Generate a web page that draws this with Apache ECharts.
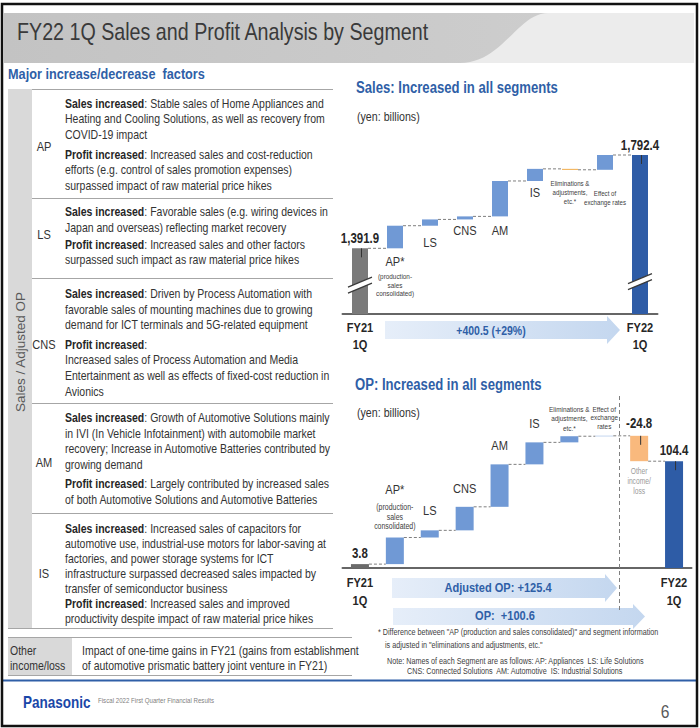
<!DOCTYPE html>
<html><head><meta charset="utf-8">
<script src="https://cdn.jsdelivr.net/npm/echarts@6/dist/echarts.min.js"></script>
<style>html,body{margin:0;padding:0;background:#fff}#c{width:700px;height:728px}</style>
</head><body><div id="c"></div>
<script>
// ---------------- DATA ----------------
const salesCategories = ['FY21\n1Q', 'AP*', 'LS', 'CNS', 'AM', 'IS', 'Eliminations &\nadjustments,\netc.*', 'Effect of\nexchange rates', 'FY22\n1Q'];
const salesStartValue = 1391.9;
const salesDeltas = [97, 27, 13, 152, 52, -4, 63.5];
const salesEndValue = 1792.4;

const opCategories = ['FY21\n1Q', 'AP*', 'LS', 'CNS', 'AM', 'IS', 'Eliminations &\nadjustments,\netc.*', 'Effect of\nexchange\nrates', 'Other\nincome/\nloss', 'FY22\n1Q'];
const opStartValue = 3.8;
const opDeltas = [26, 7, 23, 41.5, 21.5, 6, 0.4, -24.8];
const opEndValue = 104.4;

const apNoteLines = ['(production-', 'sales', 'consolidated)'];

const apFactors = [
  ['{b|Sales increased}: Stable sales of Home Appliances and', 'Heating and Cooling Solutions, as well as recovery from', 'COVID-19 impact'],
  ['{b|Profit increased}: Increased sales and cost-reduction', 'efforts (e.g. control of sales promotion expenses)', 'surpassed impact of raw material price hikes']
];
const lsFactors = [
  ['{b|Sales increased}: Favorable sales (e.g. wiring devices in', 'Japan and overseas) reflecting market recovery'],
  ['{b|Profit increased}: Increased sales and other factors', 'surpassed such impact as raw material price hikes']
];
const cnsFactors = [
  ['{b|Sales increased}: Driven by Process Automation with', 'favorable sales of mounting machines due to growing', 'demand for ICT terminals and 5G-related equipment'],
  ['{b|Profit increased}:', 'Increased sales of Process Automation and Media', 'Entertainment as well as effects of fixed-cost reduction in', 'Avionics']
];
const amFactors = [
  ['{b|Sales increased}: Growth of Automotive Solutions mainly', 'in IVI (In Vehicle Infotainment) with automobile market', 'recovery; Increase in Automotive Batteries contributed by', 'growing demand'],
  ['{b|Profit increased}: Largely contributed by increased sales', 'of both Automotive Solutions and Automotive Batteries']
];
const isFactors = [
  ['{b|Sales increased}: Increased sales of capacitors for', 'automotive use, industrial-use motors for labor-saving at', 'factories, and power storage systems for ICT', 'infrastructure surpassed decreased sales impacted by', 'transfer of semiconductor business'],
  ['{b|Profit increased}: Increased sales and improved', 'productivity despite impact of raw material price hikes']
];
const segmentNames = ['AP', 'LS', 'CNS', 'AM', 'IS'];
const otherFactors = ['Impact of one-time gains in FY21 (gains from establishment', 'of automotive prismatic battery joint venture in FY21)'];
const footnoteLines = ['* Difference between "AP (production and sales consolidated)" and segment information', 'is adjusted in "eliminations and adjustments, etc."'];
const noteLines = ['Note: Names of each Segment are as follows: AP: Appliances  LS: Life Solutions', 'CNS: Connected Solutions  AM: Automotive  IS: Industrial Solutions'];

// ---------------- HELPERS ----------------
const FONT = "'Liberation Sans',Arial,sans-serif";
const NX = 0.82; // horizontal squeeze → Arial Narrow look
const BLUE = '#2f5fa7';
const SEG = '#7099d5';
const fmt = v => v.toLocaleString('en-US', {minimumFractionDigits: 1, maximumFractionDigits: 1});

function waterfall(start, deltas, end) {
  const base = [0], size = [start], kind = ['start'], level = [start];
  let r = start;
  deltas.forEach(d => {
    const lo = Math.min(r, r + d), hi = Math.max(r, r + d);
    base.push(lo); size.push(+(hi - lo).toFixed(4)); kind.push(d >= 0 ? 'up' : 'down');
    r = +(r + d).toFixed(4); level.push(r);
  });
  base.push(0); size.push(end); kind.push('end'); level.push(end);
  return {base, size, kind, level};
}
const S = waterfall(salesStartValue, salesDeltas, salesEndValue);
const O = waterfall(opStartValue, opDeltas, opEndValue);
const sumSales = salesDeltas.reduce((a, b) => a + b, 0);
const adjOP = opDeltas.slice(0, -1).reduce((a, b) => a + b, 0);
const totOP = opDeltas.reduce((a, b) => a + b, 0);
const SALES_MIN = 1110, SALES_MAX = salesEndValue, OP_MIN = 0, OP_MAX = 130;

const colorOf = (k, which) => k === 'start' ? (which === 's' ? '#7a7a7a' : '#6b6b6b') :
  k === 'end' ? '#2e5ca6' : k === 'up' ? SEG : (which === 's' ? '#f0a63c' : '#f9b97d');

// label specs: anchor = 'top' | 'bottom' | 'axis'
const vSpec = (text, dist) => ({text, anchor: 'top', dir: 'up', dist, fs: 14, fw: 'bold', color: '#262626', lh: 15});
const segSpec = (text, anchor, dist) => ({text, anchor, dir: anchor === 'top' ? 'up' : 'down', dist, fs: 13.5, color: '#333', lh: 16});
const smSpec = (text, anchor, dist, fs, lh, color) => ({text, anchor, dir: anchor === 'top' ? 'up' : 'down', dist, fs, lh, color: color || '#404040'});
const apSpec = (anchor, dist, aLh, sFs, sLh) => ({anchor, dir: anchor === 'top' ? 'up' : 'down', dist, fs: 13.5, lh: aLh,
  text: '{a|AP*}\n' + apNoteLines.map(l => '{s|' + l + '}').join('\n'),
  rich: {a: {fontFamily: FONT, fontSize: 13.5, fill: '#333', lineHeight: aLh},
         s: {fontFamily: FONT, fontSize: sFs, fill: '#404040', lineHeight: sLh}}});
const axSpec = (text, dist, lh) => ({text, anchor: 'axis', dir: 'down', dist, fs: 13.5, fw: 'bold', color: '#262626', lh});

const salesLabelSpecs = [
  vSpec(fmt(salesStartValue), 3),
  apSpec('bottom', 3, 21.5, 7.8, 8.5),
  segSpec(salesCategories[2], 'bottom', 9),
  segSpec(salesCategories[3], 'bottom', 3),
  segSpec(salesCategories[4], 'bottom', 6),
  segSpec(salesCategories[5], 'bottom', 4),
  smSpec(salesCategories[6], 'bottom', 8.5, 7.5, 9),
  smSpec(salesCategories[7], 'bottom', 18.5, 7.5, 9),
  vSpec(fmt(salesEndValue), 2.5),
  axSpec(salesCategories[0], 5, 17),
  axSpec(salesCategories[salesCategories.length - 1], 5, 17)
];
const salesLabelIdx = [0, 1, 2, 3, 4, 5, 6, 7, 8, 0, salesCategories.length - 1];

const opLabelSpecs = [
  vSpec(fmt(opStartValue), 3.5),
  apSpec('top', 6.5, 26, 8.5, 9.5),
  segSpec(opCategories[2], 'top', 12),
  segSpec(opCategories[3], 'top', 10),
  segSpec(opCategories[4], 'top', 11),
  segSpec(opCategories[5], 'top', 11),
  smSpec(opCategories[6], 'top', 3, 7.8, 9.5),
  smSpec(opCategories[7], 'top', 5, 7.8, 8.5),
  vSpec(fmt(opDeltas[opDeltas.length - 1]), 5),
  vSpec(fmt(opEndValue), 3.5),
  smSpec(opCategories[8], 'bottom', 5, 8.2, 10, '#9a9a9a'),
  axSpec(opCategories[0], 6, 18),
  axSpec(opCategories[opCategories.length - 1], 6, 18)
];
const opLabelIdx = [0, 1, 2, 3, 4, 5, 6, 7, 8, 9, 8, 0, opCategories.length - 1];

function labelData(W, idx, specs, axisMin) {
  return idx.map((i, k) => {
    const a = specs[k].anchor;
    const v = a === 'top' ? W.base[i] + W.size[i] : a === 'bottom' ? W.base[i] : axisMin;
    return [i, v];
  });
}
function labelRender(specs) {
  return function (params, api) {
    const sp = specs[params.dataIndex];
    const c = api.coord([api.value(0), api.value(1)]);
    const y = sp.dir === 'up' ? c[1] - sp.dist : c[1] + sp.dist;
    const va = sp.dir === 'up' ? 'bottom' : 'top';
    const style = {text: sp.text, fontFamily: FONT, fontSize: sp.fs, fontWeight: sp.fw || 'normal',
      fill: sp.color || '#333', textAlign: 'center', textVerticalAlign: va, verticalAlign: va, lineHeight: sp.lh};
    if (sp.rich) style.rich = sp.rich;
    return {type: 'text', x: c[0], y, scaleX: NX, style};
  };
}
function connectorRender(hw) {
  return function (params, api) {
    const i = api.value(0), v = api.value(1);
    const p1 = api.coord([i, v]), p2 = api.coord([i + 1, v]);
    return {type: 'line', shape: {x1: p1[0] + hw, y1: p1[1], x2: p2[0] - hw, y2: p2[1]},
      style: {stroke: '#7f7f7f', lineWidth: 1, lineDash: [3, 2]}};
  };
}
function tickRender(params, api) {
  const p = api.coord([api.value(0), api.value(1)]);
  return {type: 'line', shape: {x1: p[0] + 1.5, y1: p[1], x2: p[0] + 1.5, y2: p[1] + 9},
    style: {stroke: '#333', lineWidth: 1}};
}
function breakRender(params, api) {
  const p = api.coord([api.value(0), api.value(1)]);
  const x0 = p[0] - 12, x1 = p[0] + 12, y = p[1];
  return {type: 'group', children: [
    {type: 'polygon', shape: {points: [[x0, y + 5], [x1, y - 5], [x1, y + 1], [x0, y + 11]]}, style: {fill: '#fff'}},
    {type: 'line', shape: {x1: x0, y1: y + 5, x2: x1, y2: y - 5}, style: {stroke: '#3a3a3a', lineWidth: 1.2}},
    {type: 'line', shape: {x1: x0, y1: y + 11, x2: x1, y2: y + 1}, style: {stroke: '#3a3a3a', lineWidth: 1.2}}
  ]};
}

// ---------------- GRAPHICS ----------------
const G = [];
function T(x, y, text, o) {
  o = o || {};
  const sx = o.sx === undefined ? NX : o.sx;
  const style = Object.assign({text, fontFamily: FONT, fontSize: 12, fill: '#333', textAlign: 'left',
    textVerticalAlign: 'middle', verticalAlign: 'middle'}, o);
  delete style.sx;
  G.push({type: 'text', x, y, z: 20, scaleX: sx, style});
}
const R = (x, y, w, h, fill, z) => G.push({type: 'rect', z: z || 1, shape: {x, y, width: w, height: h}, style: {fill}});
const L = (x1, y1, x2, y2, stroke, lw, dash) => G.push({type: 'line', z: 5, shape: {x1, y1, x2, y2}, style: {stroke, lineWidth: lw || 1, lineDash: dash || null}});

// header band
R(4, 13, 690, 50, '#ececec', 1);
(function () {
  const pts = [[4, 13]];
  const P0 = [548, 13], P1 = [518, 13], P2 = [502, 63], P3 = [460, 63];
  for (let k = 0; k <= 24; k++) {
    const t = k / 24, u = 1 - t;
    pts.push([u*u*u*P0[0] + 3*u*u*t*P1[0] + 3*u*t*t*P2[0] + t*t*t*P3[0], u*u*u*P0[1] + 3*u*u*t*P1[1] + 3*u*t*t*P2[1] + t*t*t*P3[1]]);
  }
  pts.push([4, 63]);
  G.push({type: 'polygon', z: 2, shape: {points: pts}, style: {fill: {type: 'linear', x: 0, y: 0, x2: 1, y2: 0,
    colorStops: [{offset: 0, color: '#c3c3c3'}, {offset: 1, color: '#cdcdcd'}]}}});
})();
T(17, 32, 'FY22 1Q Sales and Profit Analysis by Segment', {fontSize: 24, fill: '#3a3a3a'});

// left table
T(8, 74, 'Major increase/decrease  factors', {fontSize: 15.5, fontWeight: 'bold', fill: BLUE});
R(8, 89, 24, 539, '#d9d9d9', 1);
[89, 198, 278, 403, 513].forEach(y => L(32, y + 0.5, 333, y + 0.5, '#a6a6a6', 1));
L(8, 628.5, 333, 628.5, '#a6a6a6', 1);
L(8, 637.5, 352, 637.5, '#a6a6a6', 1);
L(8, 675.5, 352, 675.5, '#a6a6a6', 1);
G.push({type: 'text', z: 20, x: 20, y: 352, rotation: Math.PI / 2, style: {text: 'Sales / Adjusted OP',
  fontFamily: FONT, fontSize: 13.5, fill: '#595959', textAlign: 'center', textVerticalAlign: 'middle', verticalAlign: 'middle'}});

const TFS = 12.8;
const richLine = line => {
  const m = line.match(/^\{b\|(.*?)\}(.*)$/);
  return m ? '{b|' + m[1] + '}' + (m[2] ? '{n|' + m[2] + '}' : '') : '{n|' + line + '}';
};
const RICH = {b: {fontFamily: FONT, fontSize: TFS, fontWeight: 'bold', fill: '#262626'},
              n: {fontFamily: FONT, fontSize: TFS, fill: '#333'}};
const factorSets = [apFactors, lsFactors, cnsFactors, amFactors, isFactors];
const rowLayout = [
  {top: 103, lh: 15.5, gap: 4.5, segY: 147},
  {top: 211, lh: 15.8, gap: 1, segY: 235},
  {top: 293, lh: 15.7, gap: 3.5, segY: 345},
  {top: 417, lh: 15.7, gap: 3.5, segY: 463},
  {top: 528, lh: 15, gap: 0, segY: 574}
];
factorSets.forEach((paras, r) => {
  const lay = rowLayout[r];
  T(44, lay.segY, segmentNames[r], {fontSize: 13.5, textAlign: 'center', fill: '#333'});
  let y = lay.top;
  paras.forEach((lines, pi) => {
    if (pi > 0) y += lay.gap;
    lines.forEach(line => {
      T(65, y, richLine(line), {rich: RICH, fontSize: TFS});
      y += lay.lh;
    });
  });
});
R(8, 638, 64, 37, '#d9d9d9', 1);
T(10, 650, 'Other', {fontSize: TFS});
T(10, 665, 'income/loss', {fontSize: TFS});
otherFactors.forEach((l, i) => T(82, 650 + i * 15.5, l, {fontSize: TFS}));

// right headings
T(356, 88, 'Sales: Increased in all segments', {fontSize: 16, fontWeight: 'bold', fill: BLUE});
T(357, 117, '(yen: billions)', {fontSize: 13, fill: '#333'});
T(355, 385, 'OP: Increased in all segments', {fontSize: 16, fontWeight: 'bold', fill: BLUE});
T(357, 413, '(yen: billions)', {fontSize: 13, fill: '#333'});

// arrows
const arrowFill = {type: 'linear', x: 0, y: 0, x2: 1, y2: 0, colorStops: [{offset: 0, color: '#e6eef9'}, {offset: 1, color: '#c4d7ef'}]};
const arrow = (x0, x1, tip, yT, yB, hT, hB) => G.push({type: 'polygon', z: 3, shape: {points: [
  [x0, yT], [x1, yT], [x1, hT], [tip, (yT + yB) / 2], [x1, hB], [x1, yB], [x0, yB]]}, style: {fill: arrowFill}});
arrow(385, 607, 620, 321, 339, 316, 344);
T(491, 330, '+' + fmt(sumSales) + ' (+' + Math.round(sumSales / salesStartValue * 100) + '%)', {fontSize: 12.8, fontWeight: 'bold', fill: BLUE, textAlign: 'center'});
arrow(392, 605, 617, 578, 598, 574, 602);
T(498, 588, 'Adjusted OP: +' + fmt(adjOP), {fontSize: 13.5, fontWeight: 'bold', fill: BLUE, textAlign: 'center'});
arrow(393, 633, 645, 608, 625, 604, 629);
T(505, 616, 'OP:  +' + fmt(totOP), {fontSize: 13.5, fontWeight: 'bold', fill: BLUE, textAlign: 'center'});
L(619.5, 396, 619.5, 610, '#7f7f7f', 1, [4, 3]);

// footnotes
T(378, 632, footnoteLines[0], {fontSize: 8.8, fill: '#404040'});
T(385, 645, footnoteLines[1], {fontSize: 8.8, fill: '#404040'});
T(387, 661, noteLines[0], {fontSize: 8.8, fill: '#404040'});
T(407, 671, noteLines[1], {fontSize: 8.8, fill: '#404040'});

// footer
L(3, 680.5, 697, 680.5, '#2f5fa7', 2);
T(23, 702, 'Panasonic', {fontSize: 16.5, fontWeight: 'bold', fill: '#1a47a8'});
T(98, 700, 'Fiscal 2022 First Quarter Financial Results', {fontSize: 7.5, fill: '#7f7f7f'});
T(665, 711, '6', {fontSize: 19, fill: '#595959', textAlign: 'center'});

// border
G.push({type: 'rect', z: 50, shape: {x: 2, y: 4, width: 695, height: 722}, style: {fill: 'none', stroke: '#111', lineWidth: 2.5}});

// ---------------- CHART ----------------
const axisX = (cats, grid) => ({type: 'category', gridIndex: grid, data: cats,
  axisLine: {lineStyle: {color: '#666', width: 2}}, axisTick: {show: false}, axisLabel: {show: false}});

const option = {
  backgroundColor: '#fff',
  animation: false,
  graphic: {elements: G},
  grid: [
    {left: 342.5, width: 315, top: 155, height: 159},
    {left: 342.5, width: 349, top: 435, height: 133}
  ],
  xAxis: [axisX(salesCategories, 0), axisX(opCategories, 1)],
  yAxis: [
    {type: 'value', gridIndex: 0, min: SALES_MIN, max: SALES_MAX, show: false},
    {type: 'value', gridIndex: 1, min: OP_MIN, max: OP_MAX, show: false}
  ],
  series: [
    {type: 'bar', xAxisIndex: 0, yAxisIndex: 0, stack: 's', barWidth: 16, silent: true,
      itemStyle: {color: 'rgba(0,0,0,0)'}, data: S.base},
    {type: 'bar', xAxisIndex: 0, yAxisIndex: 0, stack: 's', barWidth: 16,
      data: S.size.map((v, i) => ({value: v, itemStyle: {color: colorOf(S.kind[i], 's')}}))},
    {type: 'custom', xAxisIndex: 0, yAxisIndex: 0, z: 4, silent: true, renderItem: connectorRender(8),
      data: S.level.slice(0, -1).map((v, i) => [i, v])},
    {type: 'custom', xAxisIndex: 0, yAxisIndex: 0, z: 5, silent: true, renderItem: breakRender,
      data: [[0, 1247], [salesCategories.length - 1, 1262]]},
    {type: 'custom', xAxisIndex: 0, yAxisIndex: 0, z: 5, silent: true, renderItem: tickRender,
      data: [[0, salesStartValue], [salesCategories.length - 1, salesEndValue]]},
    {type: 'custom', xAxisIndex: 0, yAxisIndex: 0, z: 6, silent: true, renderItem: labelRender(salesLabelSpecs),
      data: labelData(S, salesLabelIdx, salesLabelSpecs, SALES_MIN)},

    {type: 'bar', xAxisIndex: 1, yAxisIndex: 1, stack: 'o', barWidth: 18, silent: true,
      itemStyle: {color: 'rgba(0,0,0,0)'}, data: O.base},
    {type: 'bar', xAxisIndex: 1, yAxisIndex: 1, stack: 'o', barWidth: 18,
      data: O.size.map((v, i) => ({value: v, itemStyle: {color: colorOf(O.kind[i], 'o')}}))},
    {type: 'custom', xAxisIndex: 1, yAxisIndex: 1, z: 4, silent: true, renderItem: connectorRender(9),
      data: O.level.slice(0, -1).map((v, i) => [i, v])},
    {type: 'custom', xAxisIndex: 1, yAxisIndex: 1, z: 5, silent: true, renderItem: tickRender,
      data: [[8, O.level[7]], [opCategories.length - 1, opEndValue]]},
    {type: 'custom', xAxisIndex: 1, yAxisIndex: 1, z: 6, silent: true, renderItem: labelRender(opLabelSpecs),
      data: labelData(O, opLabelIdx, opLabelSpecs, OP_MIN)}
  ]
};
const chart = echarts.init(document.getElementById('c'), null, {renderer: 'svg', width: 700, height: 728});
chart.setOption(option);
</script></body></html>
